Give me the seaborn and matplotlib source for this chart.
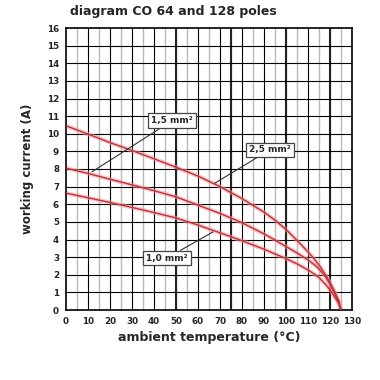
import matplotlib
matplotlib.use("Agg")
import matplotlib.pyplot as plt
import seaborn as sns
import pandas as pd

temps = [0, 10, 20, 30, 40, 50, 60, 70, 80, 90, 95, 100, 105, 110, 113, 115, 118, 120, 122, 124, 125]
current_25 = [10.45, 9.98, 9.5, 9.05, 8.58, 8.1, 7.6, 7.0, 6.32, 5.55, 5.1, 4.57, 3.95, 3.3, 2.87, 2.55, 2.0, 1.55, 1.07, 0.52, 0.0]
current_15 = [8.05, 7.75, 7.42, 7.1, 6.77, 6.42, 5.95, 5.48, 4.95, 4.32, 3.97, 3.6, 3.24, 2.84, 2.56, 2.33, 1.88, 1.47, 0.97, 0.45, 0.0]
current_10 = [6.63, 6.37, 6.1, 5.82, 5.53, 5.22, 4.82, 4.38, 3.93, 3.45, 3.18, 2.92, 2.62, 2.27, 2.03, 1.84, 1.45, 1.14, 0.77, 0.36, 0.0]
series_names = ["2,5 mm²", "1,5 mm²", "1,0 mm²"]
x_ticks = list(range(0, 131, 10))
y_ticks = list(range(0, 17))

df = pd.concat([
    pd.DataFrame({"temp": temps, "current": vals, "section": name})
    for name, vals in zip(series_names, [current_25, current_15, current_10])
])

sns.set_style("white")
plt.rcParams['font.family'] = ['DejaVu Sans']

fig = plt.figure(figsize=(3.8, 3.8), dpi=100)
ax = fig.add_axes([66/380, 70/380, (352-66)/380, (310-28)/380])

# grid
for v in range(5, 130, 10):
    ax.axvline(v, color="#b8b8b8", lw=1.0, zorder=0)
for v in range(10, 130, 10):
    ax.axvline(v, color="black", lw=0.8, zorder=0)
for v in [50, 75, 100, 120]:
    ax.axvline(v, color="#222222", lw=1.5, zorder=0)
for v in range(1, 16):
    ax.axhline(v, color="black", lw=0.8, zorder=0)

pal = {n: "#f39a9a" for n in series_names}
sns.lineplot(data=df, x="temp", y="current", hue="section", palette=pal,
             lw=3.0, alpha=0.55, legend=False, ax=ax, zorder=2)
pal2 = {n: "#c2303a" for n in series_names}
sns.lineplot(data=df, x="temp", y="current", hue="section", palette=pal2,
             lw=1.0, legend=False, ax=ax, zorder=3)

ax.set_xlim(0, 130)
ax.set_ylim(0, 16)
ax.set_xticks(x_ticks)
ax.set_yticks(y_ticks)
ax.set_xticklabels([str(t) for t in x_ticks], fontsize=6.3, fontweight="bold")
ax.set_yticklabels([str(t) for t in y_ticks], fontsize=6.3, fontweight="bold")
ax.tick_params(axis="both", length=3, width=0.8, pad=2, direction="out", color="black")
ax.set_xlabel("ambient temperature (°C)", fontsize=9, fontweight="bold", labelpad=4)
ax.set_ylabel("working current (A)", fontsize=8.5, fontweight="bold", labelpad=9)
for s in ax.spines.values():
    s.set_color("black")
    s.set_linewidth(1.2)

fig.text(70/380, 1 - 12/380, "diagram CO 64 and 128 poles", fontsize=9,
         fontweight="bold", va="center", ha="left")

box = dict(boxstyle="square,pad=0.3", fc="white", ec="#444444", lw=0.9)
arrow = dict(arrowstyle="-", color="#333333", lw=0.8, shrinkA=0, shrinkB=0)
ax.annotate("1,5 mm²", xy=(11.8, 7.84), xytext=(48.2, 10.74), fontsize=6.5,
            fontweight="bold", ha="center", va="center", bbox=box, arrowprops=arrow, zorder=5)
ax.annotate("2,5 mm²", xy=(67.7, 7.2), xytext=(92.7, 9.09), fontsize=6.5,
            fontweight="bold", ha="center", va="center", bbox=box, arrowprops=arrow, zorder=5)
ax.annotate("1,0 mm²", xy=(66.8, 4.43), xytext=(45.9, 2.95), fontsize=6.5,
            fontweight="bold", ha="center", va="center", bbox=box, arrowprops=arrow, zorder=5)

fig.savefig("out.png", dpi=100)
